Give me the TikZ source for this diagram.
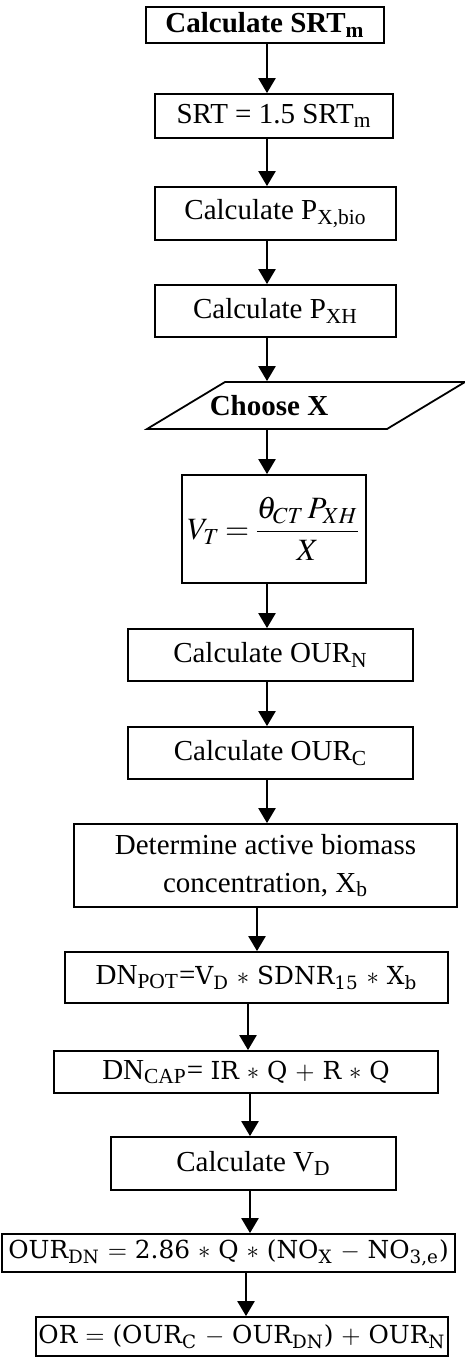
\documentclass[tikz,border=0pt]{standalone}
\usepackage{amsmath}
\usepackage{mathptmx}
\usepackage{fontspec}
\setmainfont{Liberation Serif}
\newfontfamily\eqfont{DejaVu Serif}
\usetikzlibrary{arrows.meta, positioning}

\newcommand{\eqsize}{\fontsize{12.4}{15}\selectfont}

\begin{document}
\begin{tikzpicture}[
    x=0.5pt, y=-0.5pt,
    procbox/.style={rectangle, draw=black, line width=0.9pt, inner sep=0pt, align=center, font=\fontsize{14.5}{19}\selectfont},
    arrow/.style={line width=1.2pt, -{Triangle[length=7.5pt,width=8.5pt]}}
]
    \useasboundingbox (0,0) rectangle (465,1360);

    \node[procbox, minimum width=119pt, minimum height=18pt] (srtm) at (265,25) {\textbf{Calculate SRT\textsubscript{m}}};
    \node[procbox, minimum width=119pt, minimum height=22pt] (srt) at (274,116) {SRT = 1.5 SRT\textsubscript{m}};
    \node[procbox, minimum width=120.5pt, minimum height=26.5pt] (pxbio) at (275.5,213.5) {Calculate P\textsubscript{X,bio}};
    \node[procbox, minimum width=120.5pt, minimum height=26pt] (pxh) at (275.5,311) {Calculate P\textsubscript{XH}};

    % input step drawn as a slanted box
    \draw[line width=0.9pt] (225,382) -- (465,382) -- (387,429) -- (147,429) -- cycle;
    \node[procbox, draw=none, minimum width=60pt, minimum height=23.5pt] (choose) at (269,405.5) {\textbf{Choose X}};

    \node[procbox, minimum width=92pt, minimum height=54pt, font=\fontsize{15.5}{20}\selectfont] (vt) at (274,529) {$V_T \mkern-1mu=\mkern-1mu \dfrac{\theta_{CT}\mkern2mu P_{XH}}{X}$};
    \node[procbox, minimum width=142.5pt, minimum height=26pt] (ourn) at (270.5,655) {Calculate OUR\textsubscript{N}};
    \node[procbox, minimum width=142.5pt, minimum height=26pt] (ourc) at (270.5,753) {Calculate OUR\textsubscript{C}};
    \node[procbox, minimum width=191.5pt, minimum height=41.5pt] (xb) at (265.5,865.5) {Determine active biomass\\concentration, X\textsubscript{b}};
    \node[procbox, minimum width=191.5pt, minimum height=25.5pt] (dnpot) at (256.5,977.5) {DN\textsubscript{POT}={\eqfont\eqsize V\textsubscript{D} $*$ SDNR\textsubscript{15} $*$ X\textsubscript{b}}};
    \node[procbox, minimum width=192pt, minimum height=21pt] (dncap) at (246,1072) {DN\textsubscript{CAP}= {\eqfont\eqsize IR $*$ Q $+$ R $*$ Q}};
    \node[procbox, minimum width=142.5pt, minimum height=26.5pt] (vd) at (253.5,1163.5) {Calculate V\textsubscript{D}};
    \node[procbox, minimum width=226.5pt, minimum height=19pt, font=\eqfont\eqsize] (ourdn) at (228.5,1253) {OUR\textsubscript{DN} $=$ 2.86 $*$ Q $*$ (NO\textsubscript{X} $-$ NO\textsubscript{3,e})};
    \node[procbox, minimum width=206pt, minimum height=19.5pt, font=\eqfont\eqsize] (or) at (242,1336.5) {OR $=$ (OUR\textsubscript{C} $-$ OUR\textsubscript{DN}) $+$ OUR\textsubscript{N}};

    \draw[arrow] (srtm.south -| 267,0) -- (srt.north -| 267,0);
    \draw[arrow] (srt.south -| 267,0) -- (pxbio.north -| 267,0);
    \draw[arrow] (pxbio.south -| 267,0) -- (pxh.north -| 267,0);
    \draw[arrow] (pxh.south -| 267,0) -- (choose.north -| 267,0);
    \draw[arrow] (choose.south -| 267,0) -- (vt.north -| 267,0);
    \draw[arrow] (vt.south -| 267,0) -- (ourn.north -| 267,0);
    \draw[arrow] (ourn.south -| 267,0) -- (ourc.north -| 267,0);
    \draw[arrow] (ourc.south -| 267,0) -- (xb.north -| 267,0);
    \draw[arrow] (xb.south -| 257,0) -- (dnpot.north -| 257,0);
    \draw[arrow] (dnpot.south -| 248,0) -- (dncap.north -| 248,0);
    \draw[arrow] (dncap.south -| 250,0) -- (vd.north -| 250,0);
    \draw[arrow] (vd.south -| 250,0) -- (ourdn.north -| 250,0);
    \draw[arrow] (ourdn.south -| 246,0) -- (or.north -| 246,0);

\end{tikzpicture}
\end{document}
